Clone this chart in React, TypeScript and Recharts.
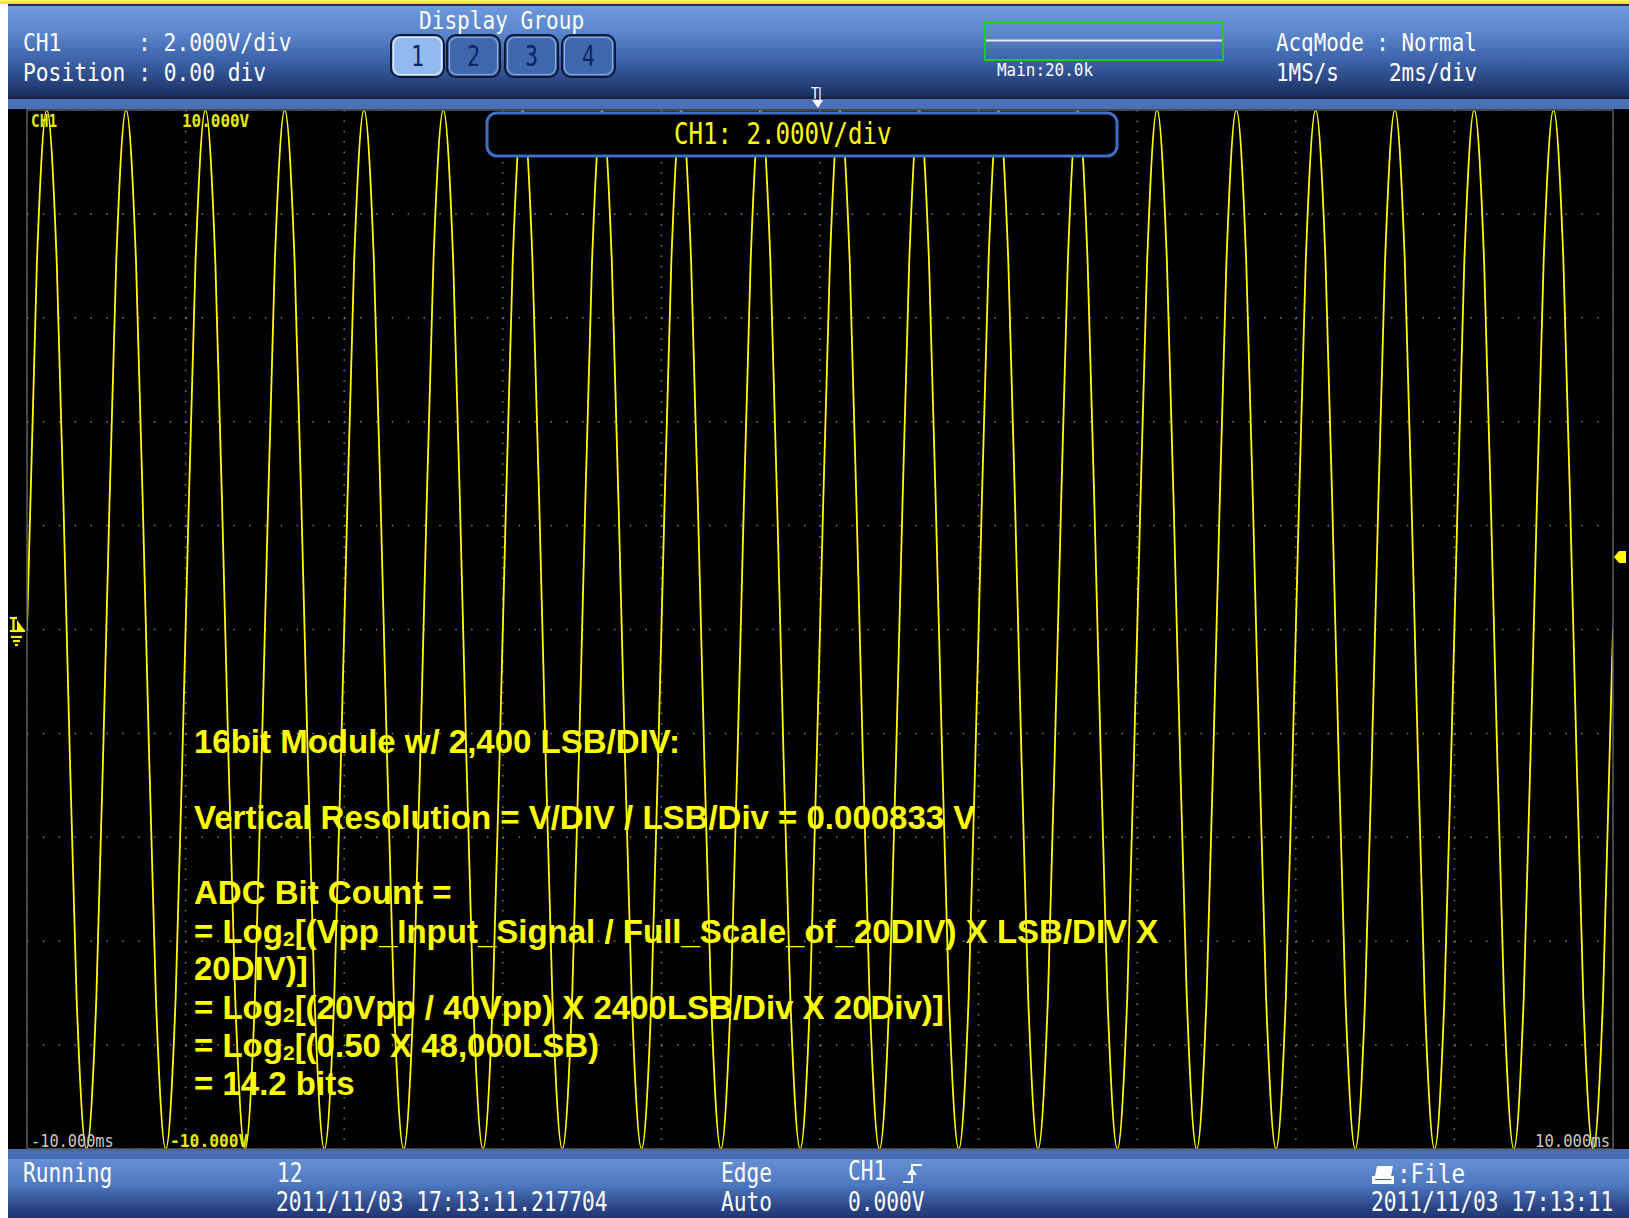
import React from "react";
import { LineChart, Line, XAxis, YAxis, CartesianGrid } from "recharts";

// CH1 trace: one period sampled every 1/8 ms, starting on a rising zero crossing
const CYCLE_OFFSET_MS = [0, 0.125, 0.25, 0.375, 0.5, 0.625, 0.75, 0.875];
const CYCLE_VOLTS = [0, 7.07, 10, 7.07, 0, -7.07, -10, -7.07];
// rising zero crossings of the 1 kHz sine across the 20 ms record
const RISING_EDGES_MS = [-10, -9, -8, -7, -6, -5, -4, -3, -2, -1, 0, 1, 2, 3, 4, 5, 6, 7, 8, 9];
const RECORD_END_MS = 10;
const RECORD_END_VOLTS = 0;

// 2 ms/div and 2 V/div, 10 divisions each way
const TIME_TICKS_MS = [-10, -8, -6, -4, -2, 0, 2, 4, 6, 8, 10];
const VOLT_TICKS = [-10, -8, -6, -4, -2, 0, 2, 4, 6, 8, 10];

const DISPLAY_GROUPS = ["1", "2", "3", "4"];

const NOTE_LINES = [
  "16bit Module w/ 2,400 LSB/DIV:",
  "Vertical Resolution = V/DIV / LSB/Div = 0.000833 V",
  "ADC Bit Count =",
  "= Log2[(Vpp_Input_Signal / Full_Scale_of_20DIV) X LSB/DIV X",
  "20DIV)]",
  "= Log2[(20Vpp / 40Vpp) X 2400LSB/Div X 20Div)]",
  "= Log2[(0.50 X 48,000LSB)",
  "= 14.2 bits",
];
const NOTE_BASELINES = [753, 829, 904, 943, 980, 1019, 1057, 1095];

const trace = RISING_EDGES_MS.flatMap((start) =>
  CYCLE_OFFSET_MS.map((off, i) => ({ t: start + off, v: CYCLE_VOLTS[i] }))
);
trace.push({ t: RECORD_END_MS, v: RECORD_END_VOLTS });

const PLOT = { x: 27, y: 110, w: 1586, h: 1039 };
const MONO = "'DejaVu Sans Mono', 'Liberation Mono', monospace";
const MONO_ADVANCE = 0.602; // DejaVu Sans Mono advance, in em
const SANS = "'Liberation Sans', Arial, 'DejaVu Sans', sans-serif";
const TRACE_YELLOW = "#ffff00";
const HEAD = 25.5;
const FOOT = 26;

type LabelProps = {
  x: number;
  y: number;
  text: string;
  size?: number;
  adv?: number;
  fill?: string;
  weight?: number;
  anchor?: "start" | "middle" | "end";
};

// narrow scope-style lettering: monospace squeezed horizontally to a fixed advance
function ScopeLabel({ x, y, text, size = HEAD, adv = 12.8, fill = "#ffffff", weight = 400, anchor = "start" }: LabelProps) {
  const sx = adv / (MONO_ADVANCE * size);
  return (
    <text
      transform={`translate(${x} ${y}) scale(${sx} 1)`}
      x={0}
      y={0}
      fontFamily={MONO}
      fontSize={size}
      fontWeight={weight}
      fill={fill}
      textAnchor={anchor}
      style={{ whiteSpace: "pre" }}
    >
      {text}
    </text>
  );
}

function NoteLine({ text, y }: { text: string; y: number }) {
  const parts = text.split("Log2");
  return (
    <text x={194} y={y} fontFamily={SANS} fontSize={33} fontWeight={700} fill={TRACE_YELLOW} style={{ whiteSpace: "pre" }}>
      {parts.map((p, i) => (
        <React.Fragment key={i}>
          {i > 0 && (
            <>
              <tspan>Log</tspan>
              <tspan fontSize={21} dy={3}>2</tspan>
              <tspan dy={-3}>{p}</tspan>
            </>
          )}
          {i === 0 && <tspan>{p}</tspan>}
        </React.Fragment>
      ))}
    </text>
  );
}

function Overlay() {
  const buttonX = [391, 447, 505, 562];
  return (
    <svg width={1629} height={1218} style={{ position: "absolute", left: 0, top: 0, pointerEvents: "none" }}>
      {/* header */}
      <ScopeLabel x={23} y={51} text="CH1" />
      <ScopeLabel x={138} y={51} text=": 2.000V/div" />
      <ScopeLabel x={23} y={81} text="Position : 0.00 div" />
      <ScopeLabel x={419} y={29} text="Display Group" size={25} adv={12.7} />
      {DISPLAY_GROUPS.map((g, i) => {
        const active = i === 0;
        return (
          <g key={g}>
            <rect x={buttonX[i]} y={35} width={53} height={42} rx={9} fill={active ? "#94b9f0" : "#3f67ad"} stroke="#0e1a38" strokeWidth={2} />
            <rect x={buttonX[i] + 2.5} y={37.5} width={48} height={37} rx={7} fill="none" stroke={active ? "#e6efff" : "#8ea9da"} strokeWidth={1.2} />
            <ScopeLabel x={buttonX[i] + 26.5} y={66} text={g} size={29} adv={13} fill="#0c2460" anchor="middle" />
          </g>
        );
      })}
      <rect x={985} y={22} width={238} height={38} fill="none" stroke="#1fcc1f" strokeWidth={2} />
      <line x1={986} y1={40.5} x2={1222} y2={40.5} stroke="#e6e8f2" strokeWidth={2} />
      <ScopeLabel x={997} y={76} text="Main:20.0k" size={18} adv={9.6} />
      <ScopeLabel x={1276} y={51} text="AcqMode : Normal" adv={12.55} />
      <ScopeLabel x={1276} y={81} text="1MS/s" adv={12.6} />
      <ScopeLabel x={1389} y={81} text="2ms/div" adv={12.6} />

      {/* trigger position marker */}
      <ScopeLabel x={811} y={99} text="T" size={15} adv={8} />
      <line x1={820} y1={87} x2={820} y2={100} stroke="#ffffff" strokeWidth={1.2} />
      <polygon points="812,100 823,100 818,108" fill="#ffffff" />

      {/* plot frame */}
      <rect x={PLOT.x} y={PLOT.y} width={PLOT.w} height={PLOT.h} fill="none" stroke="#5c5c5c" strokeWidth={1.5} />

      {/* CH1 ground marker */}
      <g stroke={TRACE_YELLOW} strokeWidth={2.2} fill="none">
        <line x1={10} y1={618} x2={17} y2={618} />
        <line x1={13.5} y1={618} x2={13.5} y2={631} />
        <line x1={10} y1={631} x2={25} y2={631} />
        <line x1={11} y1={637} x2={22} y2={637} />
        <line x1={13} y1={641} x2={20} y2={641} />
        <line x1={15} y1={645} x2={18} y2={645} />
      </g>
      <polygon points="17,620 25,631 17,631" fill={TRACE_YELLOW} />

      {/* trigger level marker */}
      <polygon points="1614,557 1619,551 1626,551 1626,563 1619,563" fill={TRACE_YELLOW} />

      {/* scale readouts */}
      <ScopeLabel x={31} y={127} text="CH1" size={18} adv={8.7} weight={700} fill="#e8e800" />
      <ScopeLabel x={182} y={127} text="10.000V" size={18} adv={9.6} weight={700} fill="#e8e800" />
      <ScopeLabel x={31} y={1147} text="-10.000ms" size={18} adv={9.2} fill="#c8c8c8" />
      <ScopeLabel x={170} y={1147} text="-10.000V" size={18} adv={9.8} weight={700} fill="#e8e800" />
      <ScopeLabel x={1535} y={1147} text="10.000ms" size={18} adv={9.4} fill="#c8c8c8" />

      {/* V/div popup */}
      <rect x={487} y={113} width={630} height={43} rx={10} fill="#000000" stroke="#3f6fc6" strokeWidth={3} />
      <ScopeLabel x={674} y={144} text="CH1: 2.000V/div" size={30} adv={14.5} fill={TRACE_YELLOW} />

      {/* annotation */}
      {NOTE_LINES.map((line, i) => (
        <NoteLine key={i} text={line} y={NOTE_BASELINES[i]} />
      ))}

      {/* footer */}
      <ScopeLabel x={23} y={1182} text="Running" size={FOOT} adv={12.75} />
      <ScopeLabel x={277} y={1182} text="12" size={FOOT} adv={12.75} />
      <ScopeLabel x={276} y={1211} text="2011/11/03 17:13:11.217704" size={FOOT} adv={12.75} />
      <ScopeLabel x={721} y={1182} text="Edge" size={FOOT} adv={12.75} />
      <ScopeLabel x={721} y={1211} text="Auto" size={FOOT} adv={12.75} />
      <ScopeLabel x={848} y={1180} text="CH1" size={FOOT} adv={12.75} />
      <polyline points="903,1182 912,1182 912,1165 922,1165" fill="none" stroke="#ffffff" strokeWidth={2} />
      <polygon points="907,1175 917,1175 912,1168" fill="#ffffff" />
      <ScopeLabel x={848} y={1211} text="0.000V" size={FOOT} adv={12.75} />
      <polygon points="1377,1166 1393,1166 1391,1176 1375,1176" fill="#ffffff" />
      <rect x={1372} y={1176} width={22} height={8} fill="#ffffff" />
      <line x1={1375} y1={1179.5} x2={1391} y2={1179.5} stroke="#3a5ea3" strokeWidth={1} />
      <ScopeLabel x={1397} y={1183} text=":File" size={FOOT} adv={13.6} />
      <ScopeLabel x={1371} y={1211} text="2011/11/03 17:13:11" size={FOOT} adv={12.75} />
    </svg>
  );
}

export default function App() {
  return (
    <div style={{ position: "absolute", left: 0, top: 0, width: 1629, height: 1218, background: "#ffffff", overflow: "hidden" }}>
      <div style={{ position: "absolute", left: 0, top: 0, width: 1629, height: 4, background: "linear-gradient(#fff476, #efdf00)" }} />
      <div style={{ position: "absolute", left: 8, top: 4, width: 1621, height: 2, background: "#26334f" }} />
      <div
        style={{
          position: "absolute", left: 8, top: 6, width: 1621, height: 91,
          background: "linear-gradient(180deg, #6e99dd 0%, #5a85cc 30%, #3b60a6 62%, #1b2d5f 100%)",
        }}
      />
      <div style={{ position: "absolute", left: 8, top: 97, width: 1621, height: 2, background: "#13203f" }} />
      <div style={{ position: "absolute", left: 8, top: 99, width: 1621, height: 10, background: "#4a70b6" }} />
      <div style={{ position: "absolute", left: 8, top: 109, width: 1621, height: 1040, background: "#000000" }} />
      <div style={{ position: "absolute", left: 8, top: 1149, width: 1621, height: 10, background: "#476cb3" }} />
      <div
        style={{
          position: "absolute", left: 8, top: 1159, width: 1621, height: 59,
          background: "linear-gradient(180deg, #6590d6 0%, #4d77bf 45%, #2c4788 80%, #203673 100%)",
        }}
      />

      <div style={{ position: "absolute", left: PLOT.x, top: PLOT.y }}>
        <LineChart width={PLOT.w} height={PLOT.h} data={trace} margin={{ top: 0, right: 0, bottom: 0, left: 0 }}>
          <XAxis dataKey="t" type="number" domain={[-10, 10]} ticks={TIME_TICKS_MS} hide />
          <YAxis type="number" domain={[-10, 10]} ticks={VOLT_TICKS} hide />
          {/* dots every 1/10 division along each grid line */}
          <CartesianGrid horizontal={false} stroke="#7c7c7c" strokeWidth={1.5} strokeDasharray="1.5 8.89" />
          <CartesianGrid vertical={false} stroke="#7c7c7c" strokeWidth={1.5} strokeDasharray="1.5 14.36" />
          <Line
            dataKey="v"
            type="monotone"
            stroke={TRACE_YELLOW}
            strokeWidth={1.8}
            dot={false}
            isAnimationActive={false}
          />
        </LineChart>
      </div>

      <Overlay />
    </div>
  );
}
